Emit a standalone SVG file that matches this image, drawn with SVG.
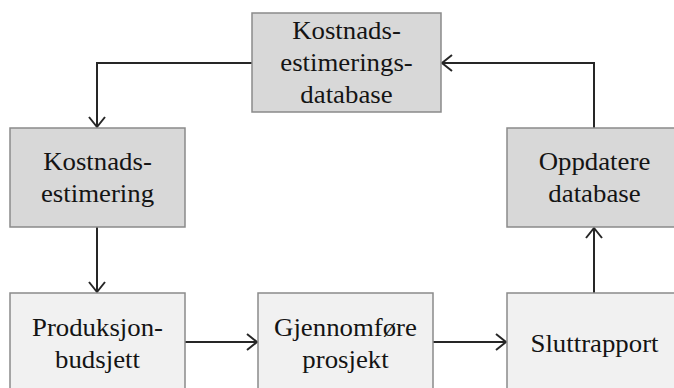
<svg xmlns="http://www.w3.org/2000/svg" width="674" height="388" viewBox="0 0 674 388">
  <style>
    .box { stroke: #8a8a8a; stroke-width: 1.5; }
    .dark { fill: #d8d8d8; }
    .light { fill: #f1f1f1; }
    .label { font-size: 25px; fill: #141414; text-anchor: middle; }
    .link { fill: none; stroke: #262626; stroke-width: 2; marker-end: url(#head); }
  </style>
  <defs>
    <marker id="head" markerUnits="userSpaceOnUse" markerWidth="14" markerHeight="20" refX="11" refY="9" orient="auto">
      <path d="M1,1 L11,9 L1,17" fill="none" stroke="#262626" stroke-width="2"/>
    </marker>
  </defs>

  <rect width="674" height="388" fill="#ffffff"/>

  <g id="connectors">
    <polyline class="link" points="252,63 97,63 97,127"/>
    <line class="link" x1="97" y1="227" x2="97" y2="292"/>
    <line class="link" x1="185" y1="342" x2="257" y2="342"/>
    <line class="link" x1="433" y1="342" x2="506" y2="342"/>
    <line class="link" x1="594" y1="293" x2="594" y2="228"/>
    <polyline class="link" points="594,128 594,63 442,63"/>
  </g>

  <g id="kostnadsestimeringsdatabase">
    <rect class="box dark" x="252" y="13" width="189" height="99"/>
    <text class="label" font-family="Liberation Serif" x="346.5" y="39" textLength="108.7" lengthAdjust="spacingAndGlyphs">Kostnads-</text>
    <text class="label" font-family="Liberation Serif" x="346.5" y="71" textLength="132.5" lengthAdjust="spacingAndGlyphs">estimerings-</text>
    <text class="label" font-family="Liberation Serif" x="346.5" y="103" textLength="92.3" lengthAdjust="spacingAndGlyphs">database</text>
  </g>

  <g id="kostnadsestimering">
    <rect class="box dark" x="10" y="128" width="175" height="99"/>
    <text class="label" font-family="Liberation Serif" x="97.5" y="170" textLength="108.7" lengthAdjust="spacingAndGlyphs">Kostnads-</text>
    <text class="label" font-family="Liberation Serif" x="97.5" y="202" textLength="113.2" lengthAdjust="spacingAndGlyphs">estimering</text>
  </g>

  <g id="oppdatere-database">
    <rect class="box dark" x="507" y="128" width="175" height="99"/>
    <text class="label" font-family="Liberation Serif" x="594.5" y="170" textLength="111.6" lengthAdjust="spacingAndGlyphs">Oppdatere</text>
    <text class="label" font-family="Liberation Serif" x="594.5" y="202" textLength="92.3" lengthAdjust="spacingAndGlyphs">database</text>
  </g>

  <g id="produksjonbudsjett">
    <rect class="box light" x="10" y="293" width="175" height="100"/>
    <text class="label" font-family="Liberation Serif" x="97.5" y="335.5" textLength="131" lengthAdjust="spacingAndGlyphs">Produksjon-</text>
    <text class="label" font-family="Liberation Serif" x="97.5" y="367.5" textLength="84.9" lengthAdjust="spacingAndGlyphs">budsjett</text>
  </g>

  <g id="gjennomfore-prosjekt">
    <rect class="box light" x="258" y="293" width="175" height="100"/>
    <text class="label" font-family="Liberation Serif" x="345.5" y="335.5" textLength="142.9" lengthAdjust="spacingAndGlyphs">Gjennomføre</text>
    <text class="label" font-family="Liberation Serif" x="345.5" y="367.5" textLength="86.4" lengthAdjust="spacingAndGlyphs">prosjekt</text>
  </g>

  <g id="sluttrapport">
    <rect class="box light" x="507" y="293" width="175" height="100"/>
    <text class="label" font-family="Liberation Serif" x="594.5" y="351.5" textLength="128" lengthAdjust="spacingAndGlyphs">Sluttrapport</text>
  </g>
</svg>
